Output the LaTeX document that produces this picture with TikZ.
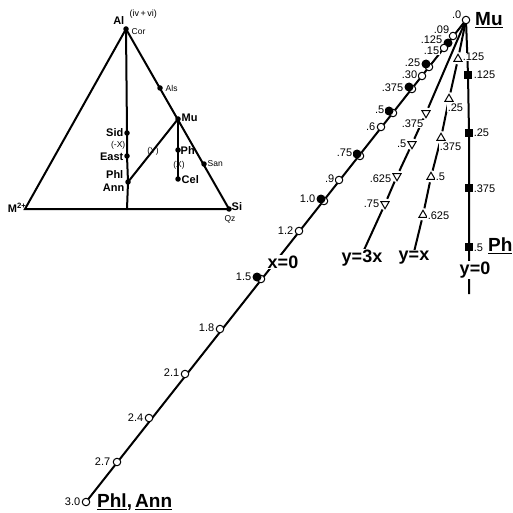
\documentclass[tikz,border=0pt]{standalone}
\usepackage{fontspec}
\setmainfont{Liberation Sans}
\usetikzlibrary{shapes.geometric}
\pgfdeclarelayer{background}
\pgfsetlayers{background,main}
\begin{document}
\begin{tikzpicture}[x=1pt,y=-1pt,
 ln/.style={line width=2pt},
 gapped/.style={shorten <=2.5pt, shorten >=2.5pt},
 od/.style={circle,draw,fill=white,line width=1pt,minimum size=7.5pt,inner sep=0pt},
 fd/.style={circle,fill=black,minimum size=9pt,inner sep=0pt},
 tup/.style={draw,fill=white,line width=1pt,regular polygon,regular polygon sides=3,minimum size=9.5pt,inner sep=0pt},
 tdn/.style={tup,shape border rotate=180},
 sq/.style={rectangle,fill=black,minimum size=7.5pt,inner sep=0pt},
 pt/.style={circle,fill=black,minimum size=5.5pt,inner sep=0pt},
 num/.style={font=\fontsize{11}{12}\selectfont,inner sep=0.6pt,fill=white},
 big/.style={font=\bfseries\fontsize{19}{21}\selectfont,inner sep=1pt},
 eq/.style={font=\bfseries\fontsize{18}{20}\selectfont,inner sep=1pt,fill=white},
 tl/.style={font=\bfseries\fontsize{11}{12}\selectfont,inner sep=0.5pt},
 sm/.style={font=\fontsize{8.5}{9.5}\selectfont,inner sep=0.5pt},
]
\useasboundingbox (0,0) rectangle (513,513);

% ---------- ternary triangle ----------
\node[pt] (Al) at (126,29) {};
\coordinate (M) at (25,209);
\node[pt] (Si) at (229,209) {};
\coordinate (B) at (127,209);
\node[pt] (Als) at (160,88) {};
\node[pt] (Mu1) at (178,119) {};
\node[pt] (San) at (204,164) {};
\node[pt] (Sid) at (127,133) {};
\node[pt] (East) at (127,156) {};
\node[pt] (Phl) at (128,182) {};
\node[pt] (Ph1) at (178,150) {};
\node[pt] (Cel) at (178,179) {};

\node[tl,anchor=east] (lAl) at (125,21) {Al};
\node[sm,anchor=west,font=\fontsize{9}{10}\selectfont] (lIV) at (129,14) {(iv\,+\,vi)};
\node[sm,anchor=west] (lCor) at (131,32) {Cor};
\node[sm,anchor=west] (lAls) at (165,88) {Als};
\node[tl,anchor=west] (lMu1) at (181,118) {Mu};
\node[tl,anchor=east] (lSid) at (124,133) {Sid};
\node[sm,anchor=east] (lmX) at (126,145) {(-X)};
\node[tl,anchor=east] (lEast) at (124,157) {East};
\node[tl,anchor=east] (lPhl) at (124,175) {Phl};
\node[tl,anchor=east] (lAnn) at (125,188) {Ann};
\node[sm] (lY) at (153,151) {(Y)};
\node[tl,anchor=west] (lPh1) at (180,151) {Ph};
\node[sm] (lX) at (179,165) {(X)};
\node[tl,anchor=west] (lCel) at (181,180) {Cel};
\node[sm,anchor=west] (lSan) at (207,164) {San};
\node[tl,anchor=east] (lM) at (27,208) {M\textsuperscript{2+}};
\node[tl,anchor=west] (lSi) at (231,207) {Si};
\node[sm] (lQz) at (230,219) {Qz};

% ---------- x = 0 line ----------
\node[od] (m0) at (466,20) {};
\node[od] (m09) at (453,36) {};
\node[fd] (m125) at (448,43) {};
\node[od] (m15) at (444,48) {};
\node[od] (m25) at (429,67) {};
\node[fd] (f25) at (426,64) {};
\node[od] (m30) at (422,76) {};
\node[od] (m375) at (412,89) {};
\node[fd] (f375) at (409,87) {};
\node[od] (m5) at (393,113) {};
\node[fd] (f5) at (389,111) {};
\node[od] (m6) at (381,127) {};
\node[od] (m75) at (360,156) {};
\node[fd] (f75) at (357,154) {};
\node[od] (m9) at (339,180) {};
\node[od] (m10) at (324,201) {};
\node[fd] (f10) at (321,199) {};
\node[od] (m12) at (299,231) {};
\node[od] (m15b) at (261,279) {};
\node[fd] (f15) at (257,277) {};
\node[od] (m18) at (220,329) {};
\node[od] (m21) at (185,374) {};
\node[od] (m24) at (149,418) {};
\node[od] (m27) at (117,462) {};
\node[od] (m3) at (86,502) {};

\node[num,anchor=east] at (462,15) {.0};
\node[num,anchor=east] at (450,30) {.09};
\node[num,anchor=east] at (443,40) {.125};
\node[num,anchor=east] at (440,51) {.15};
\node[num,anchor=east] at (421,63) {.25};
\node[num,anchor=east] at (418,75) {.30};
\node[num,anchor=east] at (404,88) {.375};
\node[num,anchor=east] at (385,110) {.5};
\node[num,anchor=east] at (376,127) {.6};
\node[num,anchor=east] at (353,153) {.75};
\node[num,anchor=east] at (335,179) {.9};
\node[num,anchor=east] at (316,199) {1.0};
\node[num,anchor=east] at (294,231) {1.2};
\node[num,anchor=east] at (252,277) {1.5};
\node[num,anchor=east] at (215,328) {1.8};
\node[num,anchor=east] at (180,373) {2.1};
\node[num,anchor=east] at (144,418) {2.4};
\node[num,anchor=east] at (111,462) {2.7};
\node[num,anchor=east] at (81,502) {3.0};

\node[big,anchor=west] (lMu) at (474,20) {\underline{Mu}};
\node[eq] (lx0) at (283,262) {x=0};
\node[big,anchor=west] (lPhlAnn) at (96,502) {\underline{Phl},\,\underline{Ann}};

% ---------- y = 3x line ----------
\node[tdn] (a375) at (426,113) {};
\node[tdn] (a5) at (412,144) {};
\node[tdn] (a625) at (397,176) {};
\node[tdn] (a75) at (385,204) {};
\coordinate (aend) at (364,250);
\node[num,anchor=east] at (424,124) {.375};
\node[num,anchor=east] at (407,144) {.5};
\node[num,anchor=east] at (392,179) {.625};
\node[num,anchor=east] at (380,204) {.75};
\node[eq] (ly3x) at (362,258) {y=3x};

% ---------- y = x line ----------
\node[tup] (b125) at (458,59) {};
\node[tup] (b25) at (449,99) {};
\node[tup] (b375) at (441,138) {};
\node[tup] (b5) at (431,177) {};
\node[tup] (b625) at (423,215) {};
\coordinate (bend) at (414,252);
\node[num,anchor=west] at (462,57) {.125};
\node[num,anchor=west] at (447,108) {.25};
\node[num,anchor=west] at (439,147) {.375};
\node[num,anchor=west] at (435,177) {.5};
\node[num,anchor=west] at (427,216) {.625};
\node[eq] (lyx) at (414,258) {y=x};

% ---------- y = 0 line ----------
\node[sq] (c125) at (468,75) {};
\node[sq] (c25) at (469,133) {};
\node[sq] (c375) at (469,188) {};
\node[sq] (c5) at (469,247) {};
\coordinate (cend) at (469,294);
\node[num,anchor=west,fill=none] at (473,75) {.125};
\node[num,anchor=west,fill=none] at (473,133) {.25};
\node[num,anchor=west,fill=none] at (473,189) {.375};
\node[num,anchor=west,fill=none] at (473,248) {.5};
\node[big,anchor=west] (lPh) at (487,246) {\underline{Ph}};
\node[eq] (ly0) at (475,270) {y=0};

\begin{pgfonlayer}{background}
\draw[ln] (Al.center) -- (M) -- (Si.center) -- cycle;
\draw[ln] (Al.center) -- (Sid.center) -- (East.center) -- (Phl.center) -- (B);
\draw[ln] (Mu1.center) -- (Ph1.center) -- (Cel.center);
\draw[ln] (Mu1.center) -- (Phl.center);
\draw[ln] (m0.center) -- (m3.center);
\draw[ln,shorten >=2.5pt] (m0.center) -- (a375);
\draw[ln,gapped] (a375) -- (a5);
\draw[ln,gapped] (a5) -- (a625);
\draw[ln,gapped] (a625) -- (a75);
\draw[ln,shorten <=2.5pt] (a75) -- (aend);
\draw[ln,shorten >=2.5pt] (m0.center) -- (b125);
\draw[ln,gapped] (b125) -- (b25);
\draw[ln,gapped] (b25) -- (b375);
\draw[ln,gapped] (b375) -- (b5);
\draw[ln,gapped] (b5) -- (b625);
\draw[ln,shorten <=2.5pt] (b625) -- (bend);
\draw[ln] (m0.center) -- (c125.center) -- (c25.center) -- (c375.center) -- (c5.center) -- (cend);
\end{pgfonlayer}
\end{tikzpicture}
\end{document}
